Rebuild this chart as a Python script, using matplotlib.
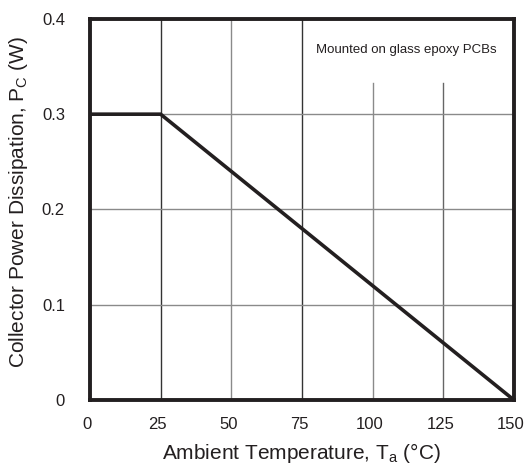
import matplotlib
matplotlib.use("Agg")
import matplotlib.pyplot as plt
import matplotlib.transforms as mtransforms

plt.rcParams['font.family'] = ['Liberation Sans', 'DejaVu Sans']
plt.rcParams['mathtext.fontset'] = 'custom'
plt.rcParams['mathtext.rm'] = 'Liberation Sans'
plt.rcParams['mathtext.it'] = 'Liberation Sans'

# derating curve
temp = [0, 25, 150]
power = [0.3, 0.3, 0.0]

x_ticks = [0, 25, 50, 75, 100, 125, 150]
y_ticks = [0, 0.1, 0.2, 0.3, 0.4]
y_tick_labels = ["0", "0.1", "0.2", "0.3", "0.4"]

# vertical grid lines stop below the note at these temperatures
short_grid_x = [100, 125]
short_grid_top = 0.333

INK = '#231f20'
GRID_DARK = '#333333'
GRID_LIGHT = '#8a8a8a'
vgrid_color = {25: GRID_DARK, 50: GRID_LIGHT, 75: GRID_DARK,
               100: GRID_LIGHT, 125: '#666666'}

fig = plt.figure(figsize=(5.26, 4.67), dpi=100)
ax = fig.add_axes([0.171, 0.1435, 0.806, 0.816])

ax.set_xlim(0, 150)
ax.set_ylim(0, 0.4)

# grid
for x in x_ticks[1:-1]:
    top = short_grid_top if x in short_grid_x else 0.4
    ax.plot([x, x], [0, top], color=vgrid_color[x], lw=1.0, zorder=1)
for y in y_ticks[1:-1]:
    ax.axhline(y, color=GRID_LIGHT, lw=1.0, zorder=1)

ax.plot(temp, power, color=INK, lw=2.6, solid_joinstyle='miter', zorder=3)

ax.text(112, 0.367, "Mounted on glass epoxy PCBs", fontsize=9.5, color=INK,
        ha='center', va='center')

ax.set_xticks(x_ticks)
ax.set_yticks(y_ticks)
ax.set_yticklabels(y_tick_labels)
ax.tick_params(length=0, labelsize=12, labelcolor=INK)
ax.tick_params(axis='y', pad=18)
ax.tick_params(axis='x', pad=12)

# x tick labels sit a little left of their grid lines
shift = mtransforms.ScaledTranslation(-3 / 100, 0, fig.dpi_scale_trans)
for lbl in ax.get_xticklabels():
    lbl.set_transform(lbl.get_transform() + shift)

for s in ax.spines.values():
    s.set_linewidth(2.8)
    s.set_color(INK)

ax.set_xlabel(r"Ambient Temperature, T$_\mathrm{a}$ (°C)", fontsize=15,
              color=INK, labelpad=7)
ax.set_ylabel(r"Collector Power Dissipation, P$_\mathrm{C}$ (W)", fontsize=15,
              color=INK)
ax.yaxis.set_label_coords(-0.142, 0.52)

fig.savefig("out.png", dpi=100)
